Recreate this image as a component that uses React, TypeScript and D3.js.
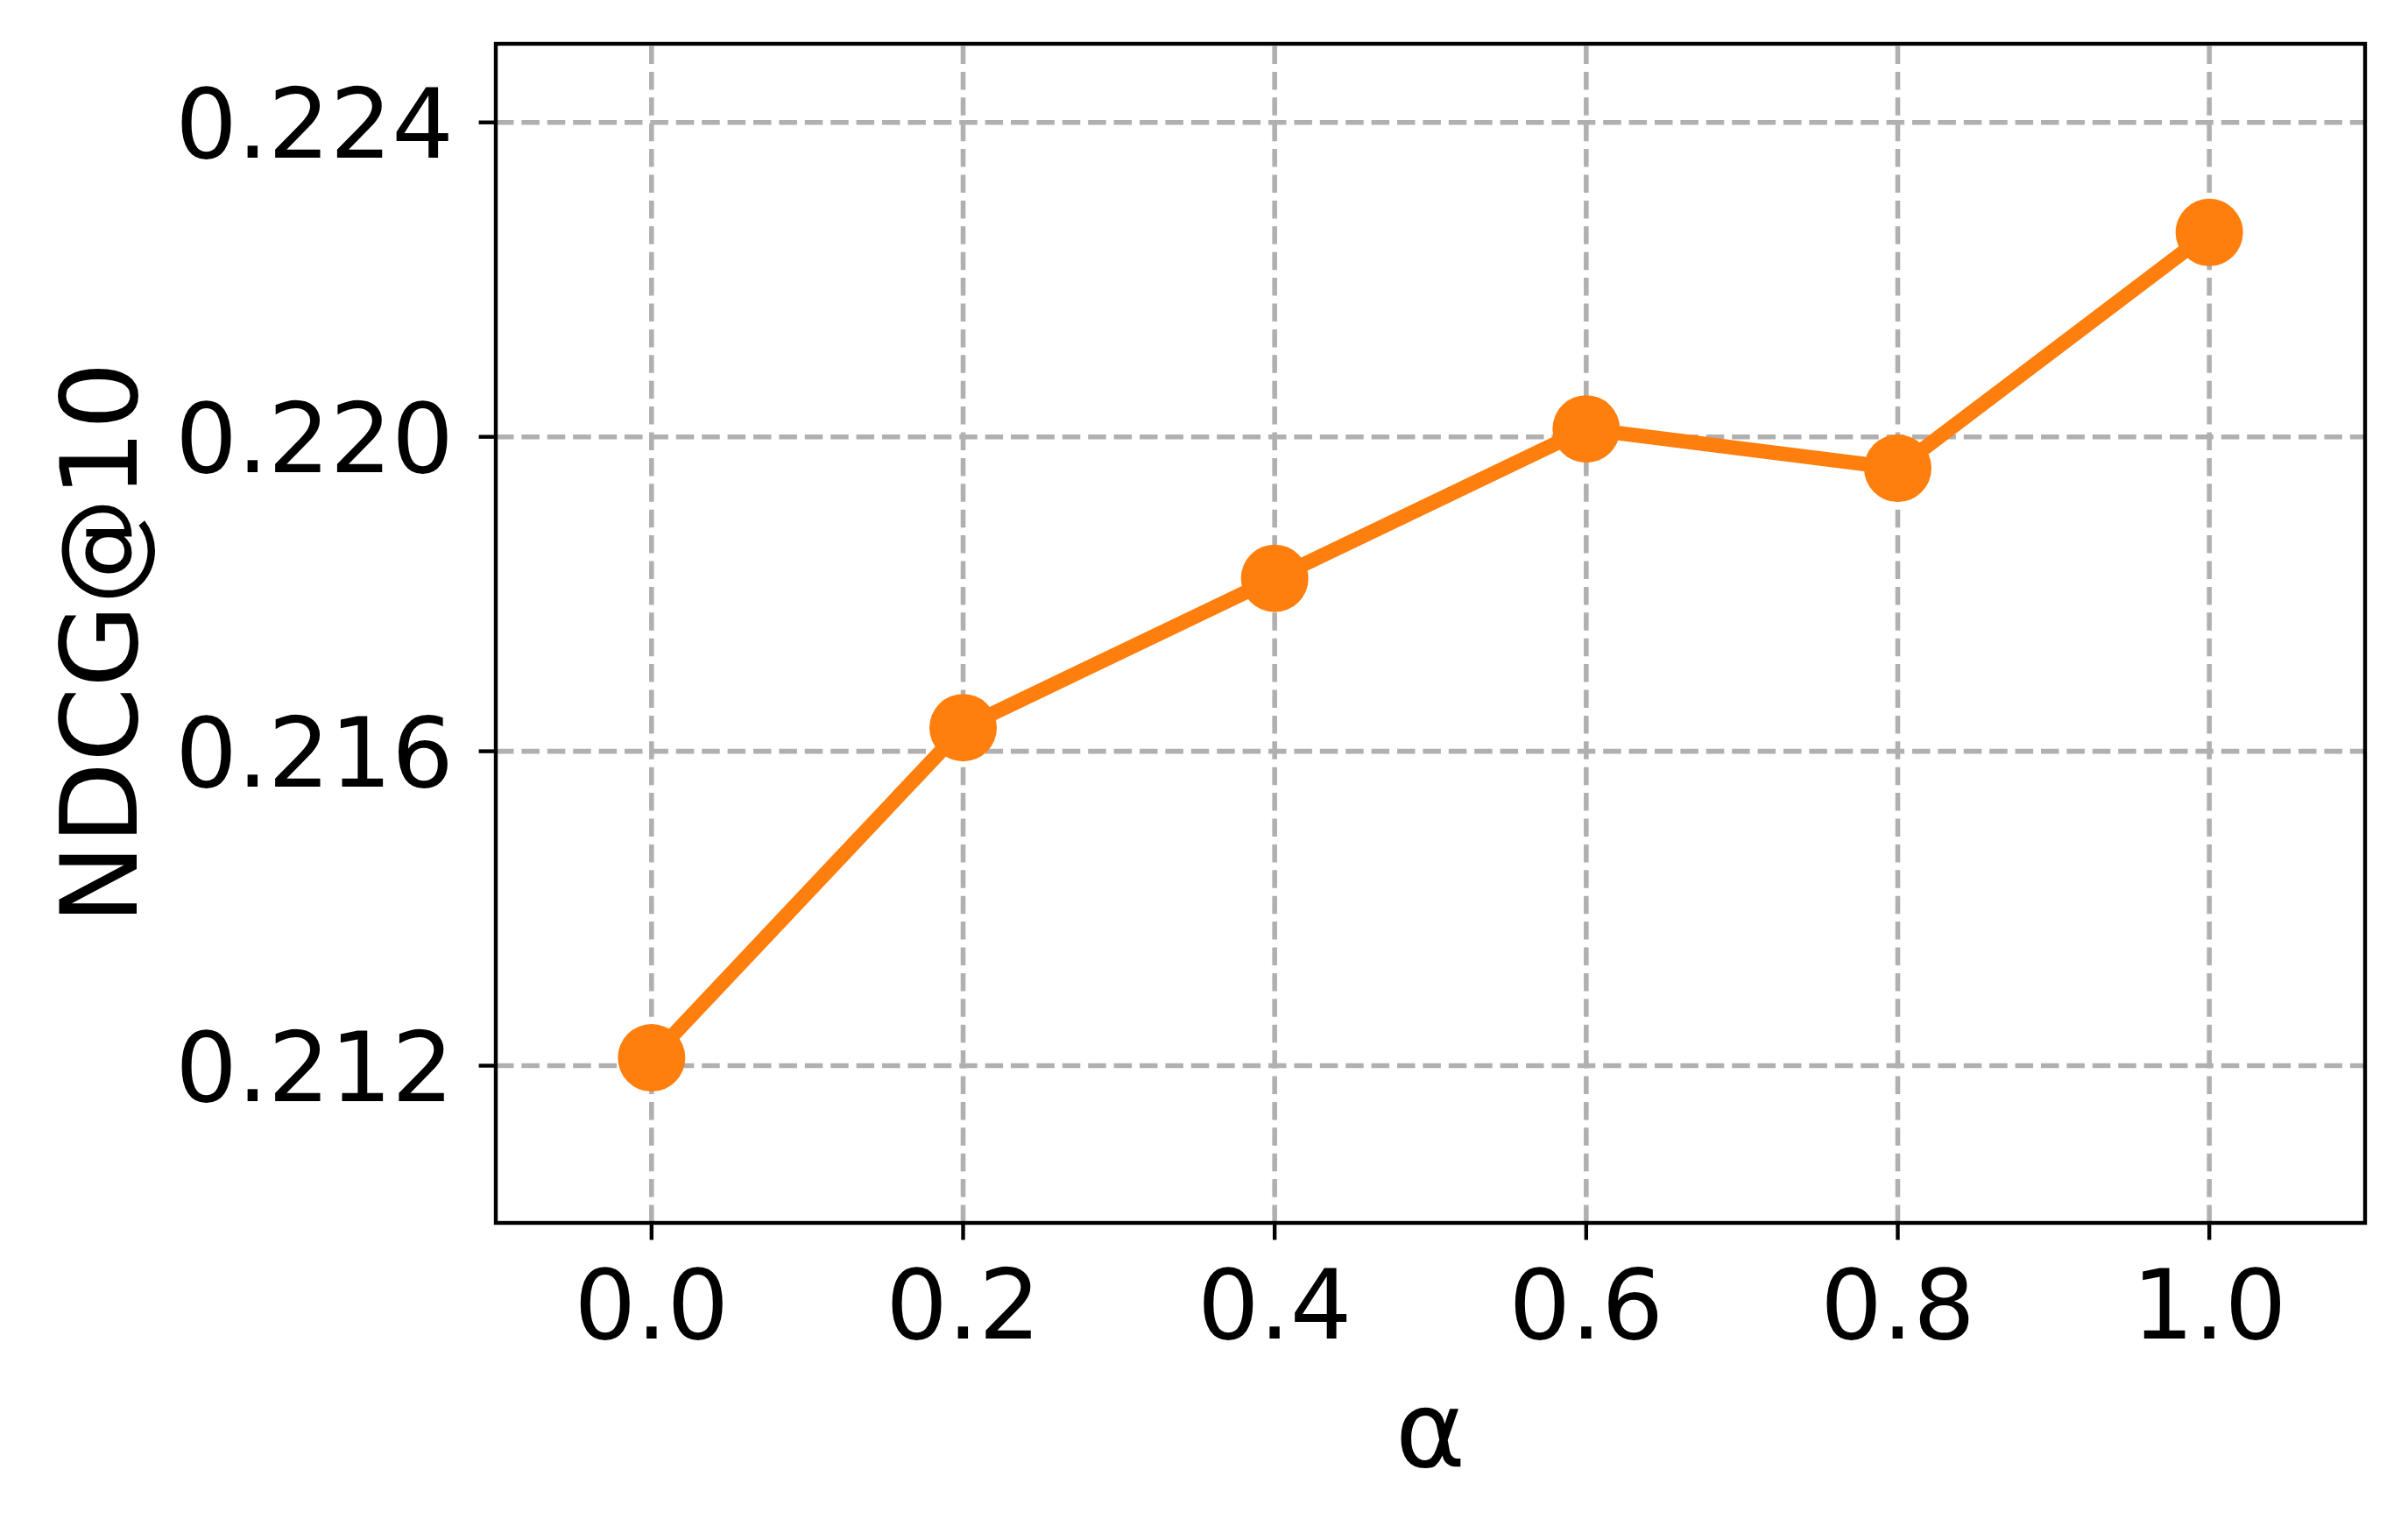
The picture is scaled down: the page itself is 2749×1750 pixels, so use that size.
import React from "react";
import * as d3 from "d3";

const alphas = [0.0, 0.2, 0.4, 0.6, 0.8, 1.0];
const ndcg = [0.2121, 0.2163, 0.2182, 0.2201, 0.2196, 0.2226];
const xTicks = [0.0, 0.2, 0.4, 0.6, 0.8, 1.0];
const yTicks = [0.212, 0.216, 0.22, 0.224];

const W = 2749;
const H = 1750;
const left = 566;
const right = 2700;
const top = 50;
const bottom = 1396;

export default function App() {
  const x = d3.scaleLinear().domain([-0.1, 1.1]).range([left, right]);
  const y = d3.scaleLinear().domain([0.21, 0.225]).range([bottom, top]);
  const line = d3
    .line<number>()
    .x((_, i) => x(alphas[i]))
    .y((d) => y(d));
  const font = "DejaVu Sans, sans-serif";
  const grid = "#b0b0b0";
  const tickLen = 19.4;
  const sw = 4.4;
  return (
    <svg
      width={W}
      height={H}
      style={{ position: "absolute", left: 0, top: 0, background: "#fff" }}
      fontFamily={font}
    >
      <rect x={0} y={0} width={W} height={H} fill="#fff" />
      {/* grid */}
      {xTicks.map((t) => (
        <line
          key={"gx" + t}
          x1={x(t)}
          x2={x(t)}
          y1={bottom}
          y2={top}
          stroke={grid}
          strokeWidth={5.56}
          strokeDasharray="20.5 8.9"
        />
      ))}
      {yTicks.map((t) => (
        <line
          key={"gy" + t}
          x1={left}
          x2={right}
          y1={y(t)}
          y2={y(t)}
          stroke={grid}
          strokeWidth={5.56}
          strokeDasharray="20.5 8.9"
        />
      ))}
      {/* data */}
      <path
        d={line(ndcg) || ""}
        fill="none"
        stroke="#ff7f0e"
        strokeWidth={16.7}
        strokeLinejoin="round"
        strokeLinecap="square"
      />
      {ndcg.map((v, i) => (
        <circle key={"m" + i} cx={x(alphas[i])} cy={y(v)} r={38.5} fill="#ff7f0e" />
      ))}
      {/* spines */}
      <rect
        x={left}
        y={top}
        width={right - left}
        height={bottom - top}
        fill="none"
        stroke="#000"
        strokeWidth={sw}
      />
      {/* x ticks */}
      {xTicks.map((t) => (
        <g key={"xt" + t}>
          <line x1={x(t)} x2={x(t)} y1={bottom} y2={bottom + tickLen} stroke="#000" strokeWidth={sw} />
          <text x={x(t)} y={1528} fontSize={111} textAnchor="middle" fill="#000">
            {d3.format(".1f")(t)}
          </text>
        </g>
      ))}
      {/* y ticks */}
      {yTicks.map((t) => (
        <g key={"yt" + t}>
          <line x1={left} x2={left - tickLen} y1={y(t)} y2={y(t)} stroke="#000" strokeWidth={sw} />
          <text x={518} y={y(t) + 40.5} fontSize={111} textAnchor="end" fill="#000">
            {d3.format(".3f")(t)}
          </text>
        </g>
      ))}
      {/* axis labels */}
      <text x={(left + right) / 2} y={1674} fontSize={122} textAnchor="middle" fill="#000">
        α
      </text>
      <text
        transform={`translate(156,734) rotate(-90)`}
        fontSize={122}
        textAnchor="middle"
        fill="#000"
      >
        NDCG@10
      </text>
    </svg>
  );
}
